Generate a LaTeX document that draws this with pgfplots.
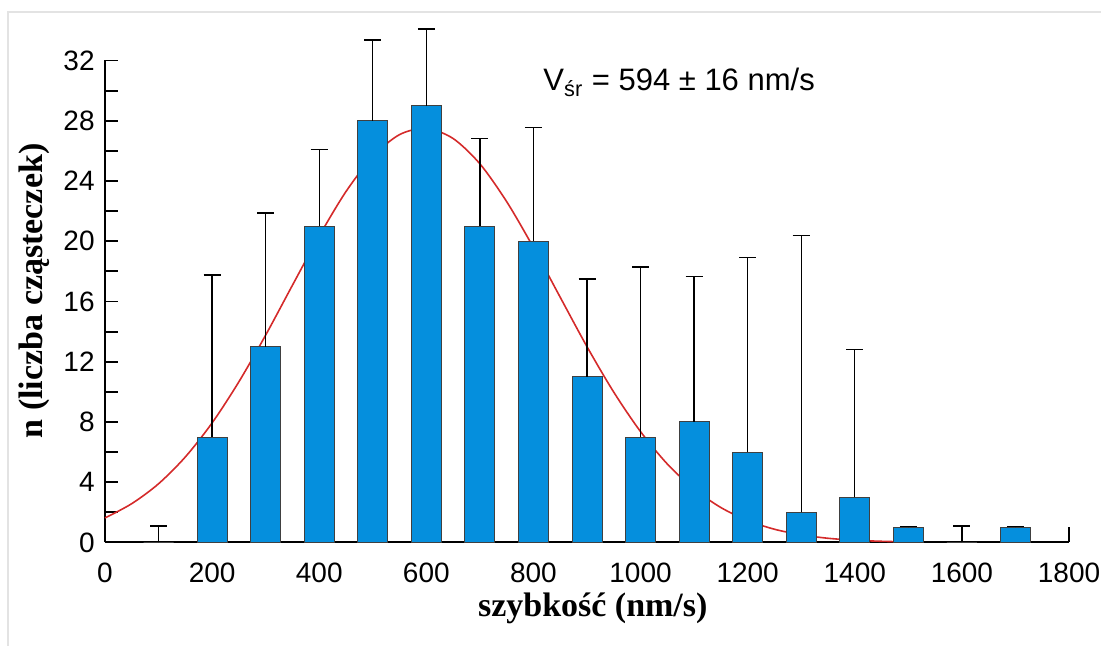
\documentclass[border=0pt]{standalone}
\usepackage{fontspec}
\setmainfont{Liberation Sans}
\newfontfamily\labelfont{Liberation Serif}
\usepackage{pgfplots}
\pgfplotsset{compat=1.18}
\definecolor{barblue}{HTML}{058FDD}
\definecolor{fitred}{HTML}{D42A2A}

\begin{document}
\begin{tikzpicture}
\path[use as bounding box] (-52.5pt,-51.75pt) rectangle (498pt,271.25pt);
\draw[gray!22, line width=1pt] (-48.5pt,-51.75pt) -- (-48.5pt,265.25pt) -- (498pt,265.25pt);
\begin{axis}[
  at={(0,0)}, anchor=south west,
  width=482pt, height=241pt, scale only axis,
  xmin=0, xmax=1800, ymin=0, ymax=32,
  axis lines=left, axis line style={-, line width=1pt},
  clip=false,
  xtick={0,200,...,1800}, xtick style={draw=none},
  ytick={0,4,...,32}, minor ytick={2,6,...,30},
  tick align=inside, major tick length=6.5pt, minor tick length=6.5pt,
  ytick style={black, line width=0.9pt},
  tick label style={font=\fontsize{14}{16}\selectfont},
  yticklabel style={inner sep=0pt, xshift=-5pt},
  xticklabel style={inner sep=0pt, yshift=-10.25pt},
  /pgf/number format/assume math mode=true,
  /pgf/number format/1000 sep={},
  xlabel={szybkość (nm/s)},
  ylabel={n (liczba cząsteczek)},
  xlabel style={at={(axis description cs:0.506,-0.1027)}, anchor=north, inner sep=0pt,
    font=\labelfont\bfseries\fontsize{17}{20}\selectfont},
  ylabel style={at={(axis description cs:-0.0571,0.522)}, anchor=south, inner sep=0pt,
    font=\labelfont\bfseries\fontsize{17}{20}\selectfont},
]
% dopasowana krzywa (pod słupkami)
\addplot[fitred, line width=0.8pt, smooth] coordinates {
  (0,1.63)(50,2.58)(100,3.90)(150,5.68)(200,7.94)(250,10.67)(300,13.77)
  (350,17.08)(400,20.35)(450,23.30)(500,25.62)(550,27.08)(600,27.49)
  (650,26.82)(700,25.14)(750,22.63)(800,19.58)(850,16.28)(900,13.00)
  (950,9.98)(1000,7.36)(1050,5.21)(1100,3.55)(1150,2.32)(1200,1.46)
  (1250,0.88)(1300,0.51)(1350,0.28)(1400,0.15)(1450,0.08)(1500,0.04)
};
% histogram z błędami
\addplot[ybar, bar width=56, fill=barblue, draw=black!75, line width=0.5pt,
  error bars/.cd, y dir=plus, y explicit,
  error bar style={black, line width=0.7pt},
  error mark options={black, line width=0.7pt, mark size=4.25pt, rotate=90}]
  table[x=x, y=n, y error=e] {
x    n   e
100  0   1.1
200  7   10.75
300  13  8.87
400  21  5.11
500  28  5.37
600  29  5.10
700  21  5.84
800  20  7.55
900  11  6.49
1000 7   11.29
1100 8   9.67
1200 6   12.91
1300 2   18.39
1400 3   9.83
1500 1   0.08
1600 0   1.1
1700 1   0.08
};
\addplot[black, line width=0.9pt] coordinates {(1800,0)(1800,1.06)};
\node[anchor=base west, inner sep=0pt, font=\fontsize{15.5}{18}\selectfont]
  at (axis cs:818,30) {V\textsubscript{śr} = 594 ± 16 nm/s};
\end{axis}
\end{tikzpicture}
\end{document}
